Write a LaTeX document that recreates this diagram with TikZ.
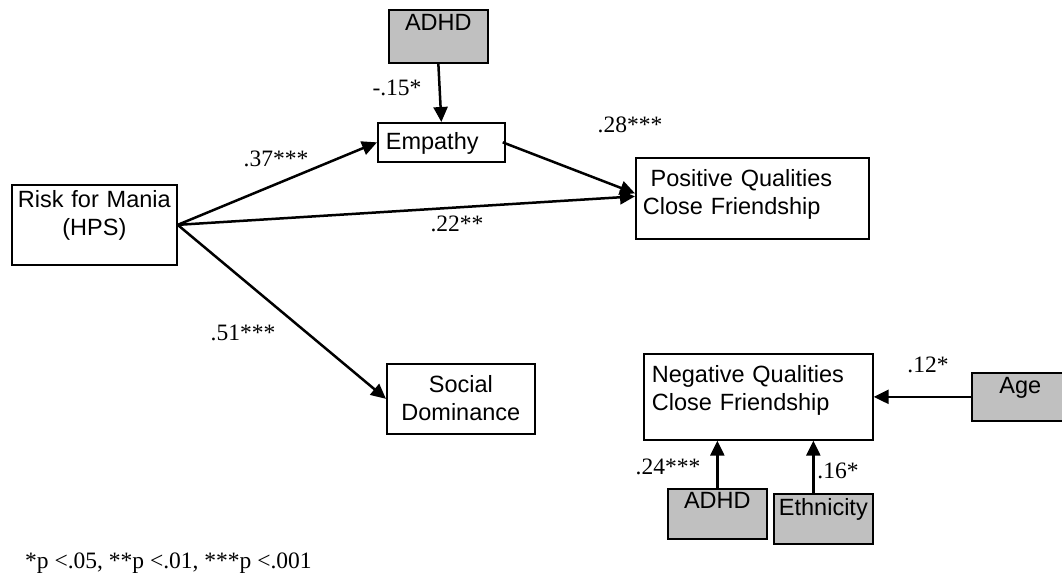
\documentclass[tikz,border=0pt]{standalone}
\usepackage{fontspec}
\setmainfont{Liberation Serif}
\setsansfont{Liberation Sans}
\usetikzlibrary{arrows.meta}
\definecolor{boxgray}{HTML}{C0C0C0}
\tikzset{
  varbox/.style={draw,line width=1.7pt,fill=white,anchor=north west,inner ysep=0pt,inner xsep=7pt,
    font=\sffamily\fontsize{23.5}{27.5}\selectfont},
  covbox/.style={varbox,fill=boxgray,inner xsep=2pt,align=center},
  path/.style={line width=2.5pt,-{Triangle[length=15pt,width=14pt]}},
  coef/.style={font=\fontsize{23.5}{27.5}\selectfont,inner sep=0pt}
}
\begin{document}
\begin{tikzpicture}[x=1pt,y=-1pt]
\useasboundingbox (0,0) rectangle (1062,578);
\node[covbox,text width=95pt,text height=21pt,text depth=32pt](ADHDa) at (388,9){ADHD};
\node[varbox,align=left,inner xsep=8pt,text width=111pt,text height=27pt,text depth=12pt](Empathy) at (377,122){Empathy};
\node[varbox,align=center,inner xsep=1pt,text width=163pt,text height=23pt,text depth=57pt](Risk) at (11,184){Risk for Mania\\(HPS)};
\node[varbox,align=left,text width=219pt,text height=29pt,text depth=52pt](PosQ) at (635,157){~Positive Qualities\\Close Friendship};
\node[varbox,align=center,text width=134pt,text height=29pt,text depth=41pt](SocDom) at (386,363){Social\\Dominance};
\node[varbox,align=left,inner xsep=8pt,text width=213pt,text height=29pt,text depth=57pt](NegQ) at (643,353){Negative Qualities\\Close Friendship};
\node[covbox,text width=93pt,text height=21pt,text depth=27pt](Age) at (971,372){Age};
\node[covbox,text width=95pt,text height=20pt,text depth=30pt](ADHDb) at (667,488){ADHD};
\node[covbox,text width=95pt,text height=22pt,text depth=28pt](Ethnicity) at (773,493){Ethnicity};

\draw[path] (ADHDa.south) -- (Empathy.north);
\draw[path] (Risk.east) -- (Empathy.west);
\draw[path] (Risk.east) -- ([yshift=2pt]PosQ.west);
\draw[path] ([xshift=-3pt]Empathy.east) -- ([yshift=5pt]PosQ.west);
\draw[path] (Risk.east) -- (SocDom.west);
\draw[path] (Age.west) -- (NegQ.east);
\draw[path] (ADHDb.north) -- (ADHDb.north |- NegQ.south);
\draw[path] ([xshift=-10pt]Ethnicity.north) coordinate (eth) -- (eth |- NegQ.south);

\node[coef](c1) at (397,88){-.15*};
\node[coef](c2) at (276,159){.37***};
\node[coef](c3) at (630,125){.28***};
\node[coef](c4) at (457,224){.22**};
\node[coef](c5) at (243,333){.51***};
\node[coef](c6) at (928,365){.12*};
\node[coef](c7) at (668,467){.24***};
\node[coef](c8) at (838,471){.16*};
\node[coef,anchor=base west](note) at (25,568){*p <.05, **p <.01, ***p <.001};
\end{tikzpicture}
\end{document}
